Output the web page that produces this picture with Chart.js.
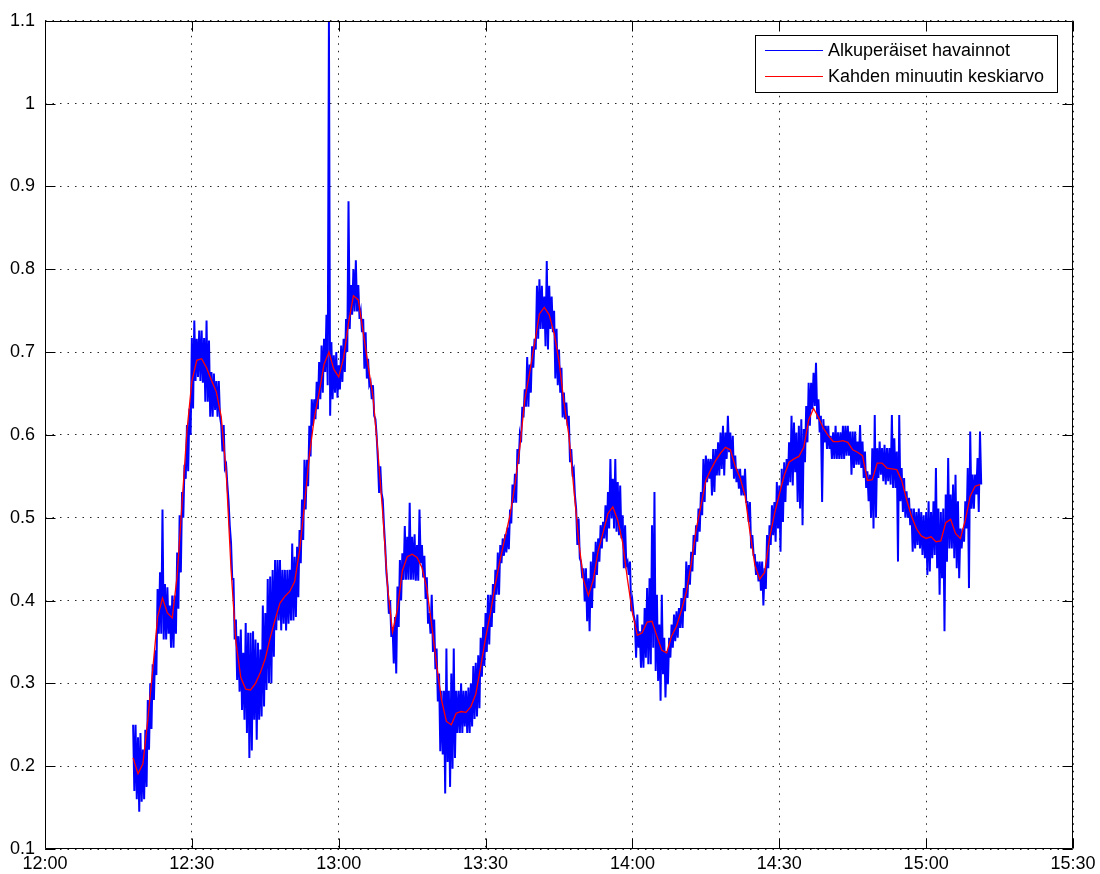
<!DOCTYPE html>
<html>
<head>
<meta charset="utf-8">
<script src="https://cdn.jsdelivr.net/npm/chart.js@4.4.1/dist/chart.umd.min.js"></script>
<style>
  html, body { margin: 0; padding: 0; background: #ffffff; }
  #wrap { width: 1100px; height: 874px; }
</style>
</head>
<body>
<div id="wrap"><canvas id="c" width="1100" height="874"></canvas></div>
<script>
// ---------------- data ----------------
const seriesLabels = ['Alkuperäiset havainnot', 'Kahden minuutin keskiarvo'];

// x axis: minutes after 12:00
const xTickMinutes = [0, 30, 60, 90, 120, 150, 180, 210];
const xTickLabels  = ['12:00', '12:30', '13:00', '13:30', '14:00', '14:30', '15:00', '15:30'];
const yTicks       = [0.1, 0.2, 0.3, 0.4, 0.5, 0.6, 0.7, 0.8, 0.9, 1.0, 1.1];
const yTickLabels  = ['0.1', '0.2', '0.3', '0.4', '0.5', '0.6', '0.7', '0.8', '0.9', '1', '1.1'];

// raw observations (blue), one value every 15 s starting 12:18
const rawStart = 18.0;
const rawStep = 0.25;
const rawValues = [
  .25,.17, .25,.16,
  .235,.145, .24,.157,
  .22,.16, .244,.175,
  .28,.22, .30,.245,
  .323,.28, .34,.31,
  .414,.36, .434,.36,
  .51,.353, .42,.353,
  .416,.36, .394,.343,
  .406,.343, .406,.36,
  .458,.39, .503,.434,
  .531,.50, .564,.547,
  .612,.556, .632,.60,
  .717,.632, .738,.665,
  .716,.67, .726,.665,
  .726,.663, .717,.64,
  .738,.64, .714,.622,
  .676,.622, .674,.63,
  .665,.622, .665,.622,
  .612,.58, .612,.56,
  .564,.54, .52,.49,
  .47,.426, .426,.353,
  .377,.304, .357,.29,
  .365,.268, .337,.256,
  .373,.24, .361,.21,
  .361,.219, .363,.256,
  .353,.232, .349,.256,
  .341,.26, .394,.272,
  .385,.292, .426,.30,
  .429,.30, .437,.332,
  .449,.364, .449,.376,
  .449,.364, .437,.372,
  .437,.364, .437,.372,
  .437,.376, .469,.376,
  .453,.38, .465,.404,
  .485,.445, .522,.473,
  .57,.51, .57,.538,
  .611,.574, .643,.611,
  .643,.619, .664,.631,
  .688,.643, .708,.651,
  .716,.676, .745,.66,
  1.10,.623, .712,.643,
  .696,.651, .70,.645,
  .684,.655, .708,.664,
  .716,.676, .74,.70,
  .882,.728, .781,.745,
  .80,.749, .811,.749,
  .781,.74, .749,.724,
  .74,.68, .724,.668,
  .692,.66, .664,.643,
  .66,.623, .619,.599,
  .57,.53, .562,.53,
  .522,.49, .465,.433,
  .417,.384, .40,.356,
  .368,.324, .38,.312,
  .417,.368, .449,.40,
  .457,.425, .49,.425,
  .477,.425, .518,.425,
  .477,.425, .48,.424,
  .467,.424, .51,.445,
  .467,.428, .454,.402,
  .428,.372, .385,.36,
  .407,.338, .377,.317,
  .342,.278, .312,.218,
  .291,.214, .291,.167,
  .342,.205, .291,.175,
  .312,.197, .342,.21,
  .291,.24, .291,.24,
  .30,.24, .291,.248,
  .291,.24, .295,.24,
  .30,.248, .321,.257,
  .325,.26, .334,.27,
  .355,.308, .368,.321,
  .385,.338, .407,.347,
  .407,.368, .42,.385,
  .437,.407, .458,.407,
  .467,.445, .475,.454,
  .48,.458, .488,.462,
  .51,.493, .54,.518,
  .553,.518, .583,.565,
  .60,.591, .634,.621,
  .655,.634, .694,.634,
  .685,.651, .707,.681,
  .716,.703, .78,.716,
  .788,.728, .78,.728,
  .767,.707, .81,.703,
  .78,.728, .767,.724,
  .75,.668, .728,.66,
  .703,.651, .681,.621,
  .651,.619, .639,.611,
  .623,.567, .583,.555,
  .559,.527, .511,.467,
  .499,.451, .447,.427,
  .439,.399, .439,.375,
  .427,.363, .447,.391,
  .459,.415, .471,.431,
  .475,.447, .491,.463,
  .495,.475, .515,.471,
  .531,.487, .571,.499,
  .547,.487, .571,.483,
  .543,.479, .539,.475,
  .503,.439, .491,.443,
  .447,.431, .447,.387,
  .399,.383, .375,.331,
  .383,.343, .363,.319,
  .371,.319, .391,.331,
  .415,.323, .427,.323,
  .491,.343, .531,.315,
  .407,.303, .371,.279,
  .407,.311, .355,.283,
  .339,.299, .355,.331,
  .371,.343, .383,.351,
  .387,.355, .391,.367,
  .403,.367, .415,.387,
  .447,.403, .443,.419,
  .459,.435, .479,.455,
  .491,.471, .511,.483,
  .531,.503, .571,.519,
  .575,.543, .571,.547,
  .571,.527, .583,.531,
  .583,.551, .591,.551,
  .603,.559, .611,.551,
  .603,.571, .623,.579,
  .603,.559, .599,.547,
  .575,.543, .559,.535,
  .559,.527, .551,.527,
  .559,.519, .519,.495,
  .519,.463, .479,.455,
  .455,.431, .447,.423,
  .447,.412, .447,.394,
  .439,.414, .479,.439,
  .491,.467, .515,.479,
  .519,.471, .543,.487,
  .539,.459, .559,.495,
  .567,.519, .571,.539,
  .591,.543, .623,.539,
  .615,.555, .603,.519,
  .611,.511, .619,.491,
  .607,.567, .635,.591,
  .663,.611, .663,.631,
  .675,.635, .687,.619,
  .643,.603, .623,.519,
  .619,.591, .611,.583,
  .611,.583, .599,.571,
  .603,.571, .611,.571,
  .603,.571, .603,.571,
  .611,.571, .611,.575,
  .611,.575, .604,.552,
  .604,.56, .604,.564,
  .592,.564, .612,.56,
  .592,.548, .58,.536,
  .556,.52, .552,.50,
  .584,.487, .624,.50,
  .584,.548, .592,.552,
  .584,.544, .588,.54,
  .584,.544, .584,.54,
  .624,.536, .596,.536,
  .58,.447, .624,.52,
  .56,.507, .548,.50,
  .532,.50, .524,.491,
  .511,.459, .511,.463,
  .507,.467, .511,.463,
  .507,.455, .503,.451,
  .507,.431, .52,.435,
  .507,.451, .52,.455,
  .56,.439, .511,.407,
  .507,.427, .511,.363,
  .528,.447, .572,.463,
  .528,.463, .54,.451,
  .552,.439, .52,.427,
  .487,.463, .487,.471,
  .52,.487, .56,.415,
  .604,.511, .552,.511,
  .552,.528, .572,.507,
  .604,.54
];

// two-minute moving average (red), one value per minute starting 12:18
const avgStart = 18;
const avgStep = 1;
const avgValues = [
  .210, .191, .203, .256, .316, .380, .403, .385, .379, .430,
  .518, .605, .665, .690, .692, .681, .666, .652, .622, .556,
  .438, .350, .307, .293, .292, .300, .313, .330, .355, .377,
  .397, .405, .411, .423, .460, .515, .575, .620, .651, .685,
  .700, .679, .670, .693, .735, .768, .763, .724, .684, .646,
  .580, .505, .415, .362, .390, .436, .453, .456, .452, .440,
  .414, .370, .322, .280, .254, .250, .264, .266, .265, .272,
  .287, .320, .355, .385, .420, .450, .477, .503, .540, .585,
  .642, .675, .710, .746, .754, .745, .723, .689, .640, .600,
  .537, .473, .425, .406, .425, .460, .482, .505, .513, .497,
  .470, .425, .385, .358, .361, .374, .375, .357, .340, .337,
  .357, .369, .388, .410, .444, .485, .515, .545, .558, .569,
  .578, .585, .582, .562, .548, .527, .483, .443, .426, .434,
  .475, .504, .528, .551, .567, .571, .574, .585, .618, .632,
  .621, .608, .599, .592, .592, .593, .591, .582, .579, .575,
  .545, .546, .566, .566, .560, .559, .558, .545, .522, .502,
  .487, .478, .475, .477, .471, .472, .494, .498, .481, .475,
  .497, .526, .538, .540
];

// ---------------- chart ----------------
const FONT = '"Liberation Sans", Arial, Helvetica, sans-serif';
Chart.defaults.font.family = FONT;
Chart.defaults.font.size = 18;
Chart.defaults.color = '#000000';

const rawPoints = rawValues.map((v, i) => ({ x: rawStart + i * rawStep, y: v }));
const avgPoints = avgValues.map((v, i) => ({ x: avgStart + i * avgStep, y: v }));

const matlabBox = {
  id: 'matlabBox',
  afterDatasetsDraw(chart) {
    const { ctx, chartArea: a, scales } = chart;
    const x = scales.x, y = scales.y;
    const L = Math.round(a.left) + 0.5, R = Math.round(a.right) - 0.5;
    const T = Math.round(a.top) + 0.5, B = Math.round(a.bottom) - 0.5;
    const len = 10;
    ctx.save();
    ctx.strokeStyle = '#000000';
    ctx.lineWidth = 1;
    ctx.beginPath();
    ctx.rect(L, T, R - L, B - T);
    x.ticks.forEach(t => {
      const px = Math.round(x.getPixelForValue(t.value)) + 0.5;
      ctx.moveTo(px, B); ctx.lineTo(px, B - len);
      ctx.moveTo(px, T); ctx.lineTo(px, T + len);
    });
    y.ticks.forEach(t => {
      const py = Math.round(y.getPixelForValue(t.value)) + 0.5;
      ctx.moveTo(L, py); ctx.lineTo(L + len, py);
      ctx.moveTo(R, py); ctx.lineTo(R - len, py);
    });
    ctx.stroke();
    ctx.restore();
  }
};

const insideLegend = {
  id: 'insideLegend',
  afterDraw(chart) {
    const { ctx, chartArea: a } = chart;
    const ds = chart.data.datasets;
    ctx.save();
    ctx.font = '18px ' + FONT;
    const textW = Math.max(...ds.map(d => ctx.measureText(d.label).width));
    const padL = 10, lineLen = 58, gap = 5, padR = 13, rowH = 25.7;
    const w = padL + lineLen + gap + textW + padR;
    const h = 57;
    const right = Math.round(a.right) - 16;
    const left = Math.round(right - w);
    const top = Math.round(a.top) + 14;
    ctx.fillStyle = '#ffffff';
    ctx.fillRect(left, top, right - left, h);
    ctx.strokeStyle = '#000000';
    ctx.lineWidth = 1;
    ctx.strokeRect(left + 0.5, top + 0.5, right - left, h);
    ds.forEach((d, i) => {
      const cy = top + 15 + i * rowH;
      ctx.strokeStyle = d.borderColor;
      ctx.lineWidth = 1;
      ctx.beginPath();
      ctx.moveTo(left + padL, Math.round(cy) + 0.5);
      ctx.lineTo(left + padL + lineLen, Math.round(cy) + 0.5);
      ctx.stroke();
      ctx.fillStyle = '#000000';
      ctx.textAlign = 'left';
      ctx.textBaseline = 'middle';
      ctx.fillText(d.label, left + padL + lineLen + gap, cy + 1);
    });
    ctx.restore();
  }
};

const gridDash = [1.5, 6];
const gridColor = 'rgba(0,0,0,0.85)';

new Chart(document.getElementById('c'), {
  type: 'line',
  data: {
    datasets: [
      {
        label: seriesLabels[0],
        data: rawPoints,
        borderColor: '#0000ff',
        borderWidth: 2,
        borderJoinStyle: 'miter',
        pointRadius: 0,
        tension: 0,
        fill: false,
        order: 1
      },
      {
        label: seriesLabels[1],
        data: avgPoints,
        borderColor: '#ff0000',
        borderWidth: 1.3,
        pointRadius: 0,
        tension: 0,
        fill: false,
        order: 0
      }
    ]
  },
  options: {
    responsive: false,
    animation: false,
    devicePixelRatio: 1,
    parsing: { xAxisKey: 'x', yAxisKey: 'y' },
    layout: { padding: { left: 0, top: 16, right: 27, bottom: 0 } },
    plugins: { legend: { display: false }, tooltip: { enabled: false } },
    scales: {
      x: {
        type: 'linear',
        min: xTickMinutes[0],
        max: xTickMinutes[xTickMinutes.length - 1],
        afterBuildTicks: s => { s.ticks = xTickMinutes.map(v => ({ value: v })); },
        afterFit: s => { s.height = 25; },
        ticks: {
          autoSkip: false,
          maxRotation: 0,
          padding: 4,
          color: '#000000',
          font: { size: 18 },
          callback: (v, i) => xTickLabels[xTickMinutes.indexOf(v)]
        },
        grid: { color: gridColor, lineWidth: 1, drawTicks: false },
        border: { display: false, dash: gridDash }
      },
      y: {
        type: 'linear',
        min: yTicks[0],
        max: yTicks[yTicks.length - 1],
        afterBuildTicks: s => { s.ticks = yTicks.map(v => ({ value: v })); },
        afterFit: s => { s.width = 45; },
        ticks: {
          autoSkip: false,
          padding: 10,
          color: '#000000',
          font: { size: 18 },
          callback: (v) => yTickLabels[yTicks.findIndex(t => Math.abs(t - v) < 1e-6)]
        },
        grid: { color: gridColor, lineWidth: 1, drawTicks: false },
        border: { display: false, dash: gridDash }
      }
    }
  },
  plugins: [matlabBox, insideLegend]
});
</script>
</body>
</html>
